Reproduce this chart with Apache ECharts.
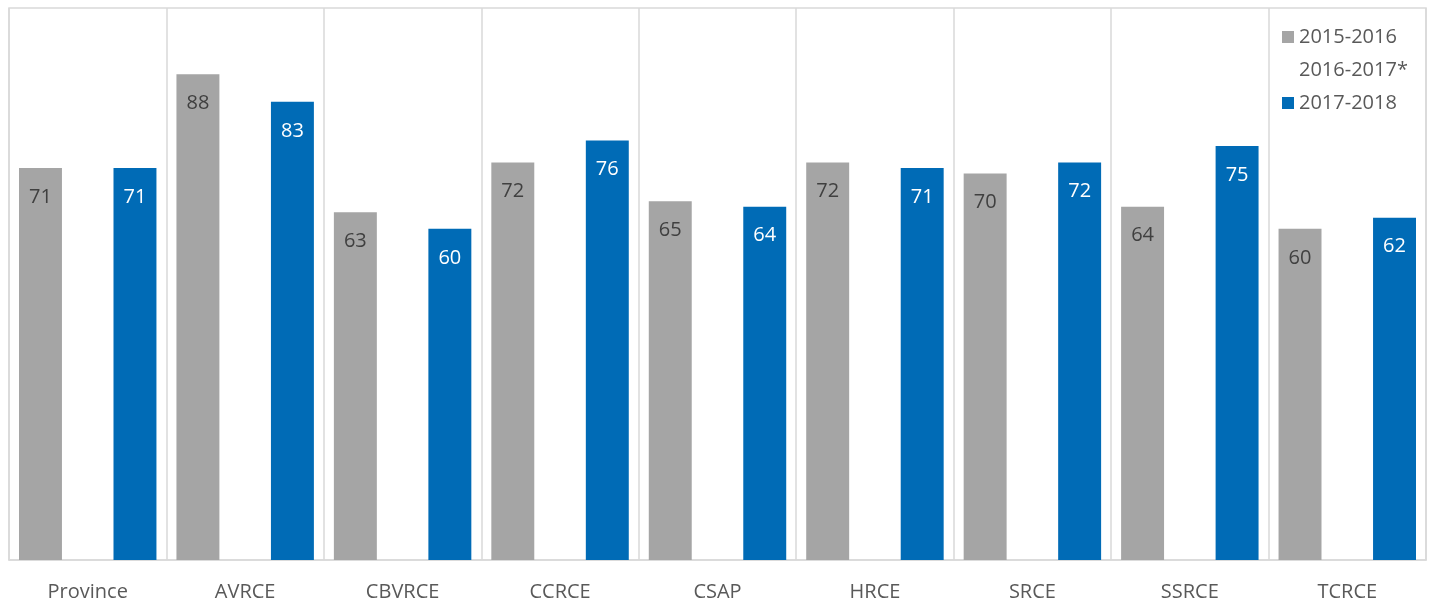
<!DOCTYPE html>
<html>
<head>
<meta charset="utf-8">
<script src="https://cdn.jsdelivr.net/npm/echarts@6/dist/echarts.min.js"></script>
<style>html,body{margin:0;padding:0;background:#fff;}#c{width:1434px;height:603px;}</style>
</head>
<body>
<div id="c"></div>
<script>
const categories = ["Province","AVRCE","CBVRCE","CCRCE","CSAP","HRCE","SRCE","SSRCE","TCRCE"];
const seriesNames = ["2015-2016","2016-2017*","2017-2018"];
const values2015 = [71,88,63,72,65,72,70,64,60];
const values2016 = [];
const values2017 = [71,83,60,76,64,71,72,75,62];

const FONT = "Open Sans";
const chart = echarts.init(document.getElementById('c'), null, {renderer:'canvas'});
chart.setOption({
  animation:false,
  backgroundColor:'#ffffff',
  textStyle:{fontFamily:FONT},
  grid:{left:9,right:8,top:8,bottom:43,show:true,borderColor:'#d9d9d9',borderWidth:1.5,containLabel:false},
  legend:{
    orient:'vertical', left:1277, top:22, itemWidth:12, itemHeight:12, itemGap:13,
    icon:'rect',
    textStyle:{fontFamily:FONT,fontSize:20,color:'#595959',lineHeight:20},
    data:seriesNames,
    backgroundColor:'#ffffff'
  },
  xAxis:{
    type:'category', data:categories,
    axisLine:{show:true,lineStyle:{color:'#d9d9d9',width:1.5}},
    axisTick:{show:false},
    axisLabel:{fontFamily:FONT,fontSize:20,color:'#595959',margin:22},
    splitLine:{show:true,lineStyle:{color:'#d9d9d9',width:1.5}}
  },
  yAxis:{type:'value',min:0,max:100,show:false,splitLine:{show:false}},
  series:[
    {name:seriesNames[0],type:'bar',data:values2015,barGap:'10%',barCategoryGap:'12.7%',
     itemStyle:{color:'#a5a5a5'},
     label:{show:true,position:'insideTop',distance:19,fontFamily:FONT,fontSize:20,color:'#404040'}},
    {name:seriesNames[1],type:'bar',data:values2016,itemStyle:{color:'rgba(255,255,255,0)'}},
    {name:seriesNames[2],type:'bar',data:values2017,
     itemStyle:{color:'#006bb6'},
     label:{show:true,position:'insideTop',distance:19,fontFamily:FONT,fontSize:20,color:'#ffffff'}}
  ]
});
</script>
</body>
</html>
